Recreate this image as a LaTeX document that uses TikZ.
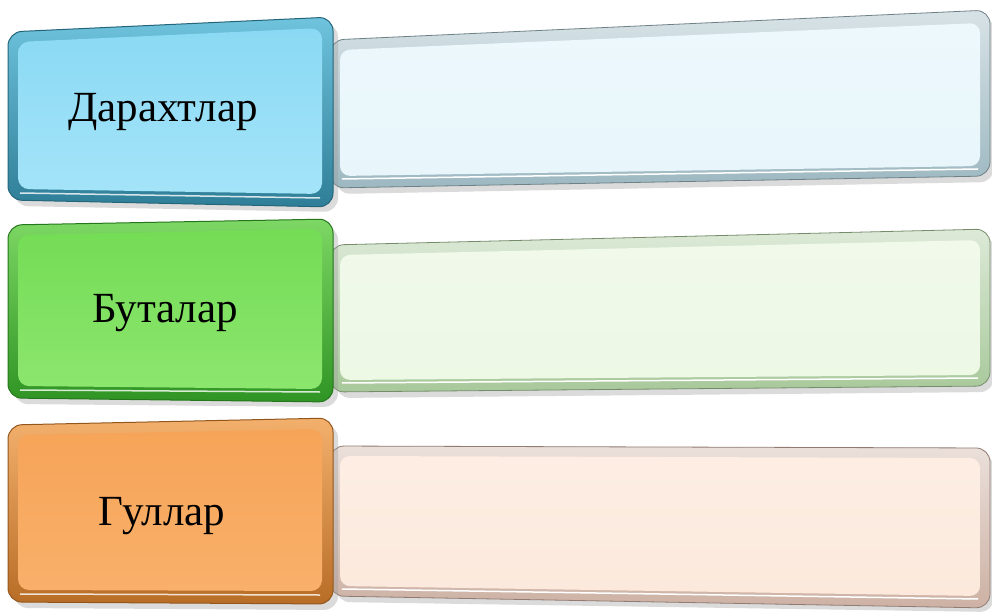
\documentclass[tikz,border=0pt]{standalone}
\usepackage{fontspec}
\setmainfont{Liberation Serif}
\begin{document}
\begin{tikzpicture}[x=1pt,y=-1pt,
  rimpath/.style={rounded corners=14pt},
  labeltext/.style={font=\fontsize{43}{47}\selectfont, text=black},
  shadowcol/.style={fill=black!40, opacity=0.35}
]
\useasboundingbox (0,0) rectangle (992,612);
\fill[white] (0,0) rectangle (992,612);

% ---------- colours ----------
\definecolor{bRim}{HTML}{2F7E98}
\definecolor{bRimL}{HTML}{6FC3DC}
\definecolor{bIn}{HTML}{8AD9F4}
\definecolor{bInL}{HTML}{A4E4F9}
\definecolor{gRim}{HTML}{2F9424}
\definecolor{gRimL}{HTML}{7DD764}
\definecolor{gIn}{HTML}{74DC55}
\definecolor{gInL}{HTML}{8CE66E}
\definecolor{oRim}{HTML}{B86D26}
\definecolor{oRimL}{HTML}{F3B06D}
\definecolor{oIn}{HTML}{F6A458}
\definecolor{oInL}{HTML}{F9B06A}
\definecolor{bPale}{HTML}{E8F6FB}
\definecolor{gPale}{HTML}{EDF8E5}
\definecolor{oPale}{HTML}{FCE9DC}
\definecolor{bPaleRim}{HTML}{9DB8C1}
\definecolor{gPaleRim}{HTML}{A8C99B}
\definecolor{oPaleRim}{HTML}{CDB1A4}

% ================= ROW 1 =================
\coordinate (r1a) at (330,40);
\coordinate (r1b) at (990,10);
\coordinate (r1c) at (990,176);
\coordinate (r1d) at (330,188);
\fill[shadowcol, rimpath] (336,46) -- (994,16) -- (994,182) -- (336,194) -- cycle;
\shade[rimpath, top color=bPaleRim!40, bottom color=bPaleRim] (r1a) -- (r1b) -- (r1c) -- (r1d) -- cycle;
\draw[rimpath, bPaleRim!70!black, line width=0.8pt] (r1a) -- (r1b) -- (r1c) -- (r1d) -- cycle;
\shade[rounded corners=10pt, top color=bPale!80!white, bottom color=bPale] (340,50) -- (980,23) -- (980,166) -- (340,176) -- cycle;
\draw[white, line width=1.5pt, rounded corners=10pt] (342,179) -- (978,169);

\fill[shadowcol, rimpath] (14,38) -- (338,23) -- (338,212) -- (14,206) -- cycle;
\shade[rimpath, top color=bRimL, bottom color=bRim] (8,32) -- (333,17) -- (333,207) -- (8,200) -- cycle;
\draw[rimpath, bRim!80!black, line width=1pt] (8,32) -- (333,17) -- (333,207) -- (8,200) -- cycle;
\shade[rounded corners=11pt, top color=bIn, bottom color=bInL] (18,42) -- (322,28) -- (322,194) -- (18,189) -- cycle;
\draw[white, opacity=0.8, line width=1.5pt, rounded corners=10pt] (20,193) -- (320,198);
\node[labeltext] (t1) at (163,112) {Дарахтлар};

% ================= ROW 2 =================
\coordinate (r2a) at (330,245);
\coordinate (r2b) at (990,229);
\coordinate (r2c) at (990,386);
\coordinate (r2d) at (330,392);
\fill[shadowcol, rimpath] (336,251) -- (994,235) -- (994,392) -- (336,398) -- cycle;
\shade[rimpath, top color=gPaleRim!40, bottom color=gPaleRim] (r2a) -- (r2b) -- (r2c) -- (r2d) -- cycle;
\draw[rimpath, gPaleRim!70!black, line width=0.8pt] (r2a) -- (r2b) -- (r2c) -- (r2d) -- cycle;
\shade[rounded corners=10pt, top color=gPale!80!white, bottom color=gPale] (340,255) -- (980,240) -- (980,375) -- (340,380) -- cycle;
\draw[white, line width=1.5pt, rounded corners=10pt] (342,383) -- (978,378);

\fill[shadowcol, rimpath] (14,231) -- (338,226) -- (338,407) -- (14,404) -- cycle;
\shade[rimpath, top color=gRimL, bottom color=gRim] (8,225) -- (333,219) -- (333,402) -- (8,398) -- cycle;
\draw[rimpath, gRim!80!black, line width=1pt] (8,225) -- (333,219) -- (333,402) -- (8,398) -- cycle;
\shade[rounded corners=11pt, top color=gIn, bottom color=gInL] (18,235) -- (322,229) -- (322,389) -- (18,386) -- cycle;
\draw[white, opacity=0.8, line width=1.5pt, rounded corners=10pt] (20,390) -- (320,392);
\node[labeltext] (t2) at (165,313) {Буталар};

% ================= ROW 3 =================
\coordinate (r3a) at (330,446);
\coordinate (r3b) at (990,448);
\coordinate (r3c) at (990,608);
\coordinate (r3d) at (330,596);
\fill[shadowcol, rimpath] (336,452) -- (994,454) -- (994,612) -- (336,602) -- cycle;
\shade[rimpath, top color=oPaleRim!40, bottom color=oPaleRim] (r3a) -- (r3b) -- (r3c) -- (r3d) -- cycle;
\draw[rimpath, oPaleRim!70!black, line width=0.8pt] (r3a) -- (r3b) -- (r3c) -- (r3d) -- cycle;
\shade[rounded corners=10pt, top color=oPale!80!white, bottom color=oPale] (340,456) -- (980,458) -- (980,596) -- (340,586) -- cycle;
\draw[white, line width=1.5pt, rounded corners=10pt] (342,589) -- (978,599);

\fill[shadowcol, rimpath] (14,431) -- (338,424) -- (338,610) -- (14,608) -- cycle;
\shade[rimpath, top color=oRimL, bottom color=oRim] (8,425) -- (333,418) -- (333,604) -- (8,602) -- cycle;
\draw[rimpath, oRim!80!black, line width=1pt] (8,425) -- (333,418) -- (333,604) -- (8,602) -- cycle;
\shade[rounded corners=11pt, top color=oIn, bottom color=oInL] (18,435) -- (322,429) -- (322,591) -- (18,590) -- cycle;
\draw[white, opacity=0.8, line width=1.5pt, rounded corners=10pt] (20,594) -- (320,595);
\node[labeltext] (t3) at (162,516) {Гуллар};
\end{tikzpicture}
\end{document}
